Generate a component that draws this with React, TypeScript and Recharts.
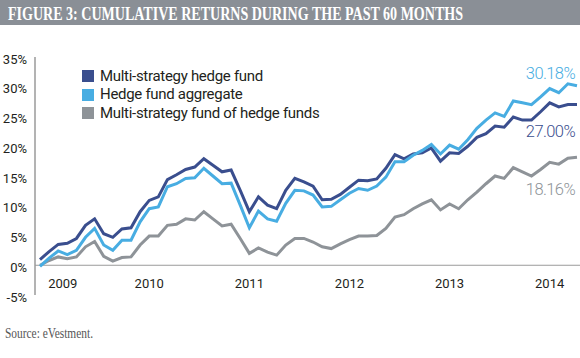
import { LineChart, Line, XAxis, YAxis, ReferenceLine } from 'recharts';

const TITLE = 'FIGURE 3: CUMULATIVE RETURNS DURING THE PAST 60 MONTHS';
const SOURCE = 'Source: eVestment.';

const SERIES_NAMES = [
  'Multi-strategy hedge fund',
  'Hedge fund aggregate',
  'Multi-strategy fund of hedge funds',
];

// cumulative returns, %, monthly points
const MULTI_STRATEGY = [
  0.96, 2.3, 3.5, 3.7, 4.5, 6.7, 7.8, 5.3, 4.7, 6.1,
  6.3, 9.0, 10.9, 11.5, 14.4, 15.2, 16.1, 16.5, 17.9, 16.8,
  15.7, 16.0, 12.6, 9.0, 11.5, 10.1, 9.5, 12.6, 14.6, 14.0,
  13.3, 11.0, 11.1, 11.9, 13.1, 14.3, 14.2, 14.5, 16.3, 18.6,
  17.9, 18.7, 18.9, 19.7, 17.5, 18.9, 18.8, 20.0, 21.5, 22.1,
  23.4, 23.2, 24.9, 24.4, 24.4, 25.8, 27.3, 26.6, 27.0, 27.0,
];

const HF_AGGREGATE = [
  -0.2, 1.2, 2.4, 1.8, 2.5, 4.7, 6.2, 3.4, 2.5, 4.2,
  4.2, 7.3, 9.5, 9.8, 13.2, 13.7, 14.6, 14.7, 16.3, 15.0,
  13.7, 13.8, 10.1, 6.3, 9.1, 7.8, 7.4, 10.4, 12.6, 12.5,
  11.8, 9.8, 9.9, 11.0, 12.1, 12.9, 12.6, 13.3, 14.8, 17.4,
  17.4, 18.5, 19.3, 20.3, 18.7, 20.2, 19.5, 21.1, 23.0, 24.4,
  25.6, 25.0, 27.6, 27.3, 27.0, 28.3, 29.7, 29.0, 30.5, 30.18,
];

const MULTI_STRATEGY_FOF = [
  0.0, 0.8, 1.4, 1.1, 1.4, 3.1, 4.0, 1.5, 0.7, 1.3,
  1.4, 3.4, 4.9, 4.9, 6.7, 6.9, 7.8, 7.6, 9.0, 7.8,
  6.6, 6.9, 4.5, 2.0, 2.9, 2.2, 1.7, 3.4, 4.5, 4.5,
  3.9, 3.1, 2.8, 3.6, 4.3, 4.9, 4.9, 5.0, 6.2, 8.1,
  8.5, 9.5, 10.3, 11.0, 9.3, 10.3, 9.5, 11.0, 12.3, 13.7,
  15.0, 14.6, 16.4, 15.7, 15.0, 16.1, 17.3, 17.0, 18.0, 18.16,
];

const END_LABELS = ['27.00%', '30.18%', '18.16%'];

const YEARS = ['2009', '2010', '2011', '2012', '2013', '2014'];
const YEAR_AT = [2.5, 12, 23, 34, 45, 56]; // point index under each year label
const Y_TICKS = [-5, 0, 5, 10, 15, 20, 25, 30, 35];

const rows = MULTI_STRATEGY.map((v, i) => ({
  i,
  ms: v,
  agg: HF_AGGREGATE[i],
  fof: MULTI_STRATEGY_FOF[i],
}));

const COLORS = ['#3a4e8e', '#48ade2', '#8e9398'];
const SANS = "Roboto, 'Noto Sans', sans-serif";
const SERIF = "'Liberation Serif', 'DejaVu Serif', serif";
const LAST = rows.length - 1;

const YearTick = ({ x, y, payload }: any) => (
  <text
    x={x}
    y={y - 12}
    textAnchor="middle"
    dominantBaseline="central"
    fill="#231f20"
    fontSize={13}
    fontFamily={SANS}
  >
    {YEARS[YEAR_AT.indexOf(payload.value)]}
  </text>
);

const endLabel = (text: string, color: string, dy: number) => (props: any) => {
  if (props.index !== LAST) return null;
  return (
    <text
      x={props.x - 2}
      y={props.y + dy}
      textAnchor="end"
      dominantBaseline="central"
      fill={color}
      fontSize={16.5}
      fontWeight={300}
      letterSpacing={-0.6}
      fontFamily={SANS}
    >
      {text}
    </text>
  );
};

export default function App() {
  return (
    <div style={{ position: 'relative', width: 580, height: 358, background: '#fff', overflow: 'hidden' }}>
      <style>{'body{margin:0}'}</style>
      <div style={{ position: 'absolute', left: 0, top: 0 }}>
        <LineChart width={580} height={358} data={rows} margin={{ top: 57, right: 0, bottom: 33, left: 0 }}>
          <XAxis
            type="number"
            dataKey="i"
            domain={[0, LAST]}
            ticks={YEAR_AT}
            interval={0}
            padding={{ left: 5, right: 3 }}
            axisLine={false}
            tickLine={false}
            tickSize={0}
            tickMargin={0}
            height={30}
            tick={<YearTick />}
          />
          <YAxis
            width={35}
            domain={[-5, 35]}
            ticks={Y_TICKS}
            interval={0}
            tickFormatter={(v) => `${v}%`}
            axisLine={{ stroke: '#9a9a9a', strokeWidth: 1.5 }}
            tickLine={false}
            tick={{ fill: '#231f20', fontSize: 13, fontFamily: SANS, dy: 2 }}
          />
          <ReferenceLine y={0} stroke="#9a9a9a" strokeWidth={1.2} />
          <Line
            dataKey="fof"
            stroke={COLORS[2]}
            strokeWidth={3}
            dot={false}
            isAnimationActive={false}
            type="linear"
            label={endLabel(END_LABELS[2], COLORS[2], 32)}
          />
          <Line
            dataKey="ms"
            stroke={COLORS[0]}
            strokeWidth={3}
            dot={false}
            isAnimationActive={false}
            type="linear"
            label={endLabel(END_LABELS[0], COLORS[0], 27)}
          />
          <Line
            dataKey="agg"
            stroke={COLORS[1]}
            strokeWidth={3}
            dot={false}
            isAnimationActive={false}
            type="linear"
            label={endLabel(END_LABELS[1], COLORS[1], -12)}
          />
        </LineChart>
      </div>
      <div
        style={{
          position: 'absolute',
          left: 82,
          top: 67,
          fontFamily: SANS,
          fontSize: 15,
          color: '#231f20',
          letterSpacing: -0.3,
          lineHeight: 1,
        }}
      >
        {SERIES_NAMES.map((name, k) => (
          <div key={name} style={{ display: 'flex', alignItems: 'center', height: 18.5 }}>
            <span style={{ width: 12, height: 12, background: COLORS[k], marginRight: 6 }} />
            <span>{name}</span>
          </div>
        ))}
      </div>
      <svg width={580} height={26} style={{ position: 'absolute', left: 0, top: 0 }}>
        <rect width={580} height={25} fill="#8a8f96" />
        <text
          x={8}
          y={19.5}
          fill="#fff"
          fontFamily={SERIF}
          fontWeight={700}
          fontSize={19}
          textLength={455}
          lengthAdjust="spacingAndGlyphs"
        >
          {TITLE}
        </text>
      </svg>
      <svg width={200} height={30} style={{ position: 'absolute', left: 0, top: 320 }}>
        <text
          x={5}
          y={17.5}
          fill="#555"
          fontFamily={SERIF}
          fontSize={14}
          textLength={88}
          lengthAdjust="spacingAndGlyphs"
        >
          {SOURCE}
        </text>
      </svg>
    </div>
  );
}
